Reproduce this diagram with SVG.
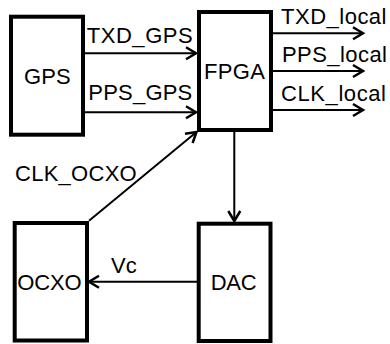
<svg xmlns="http://www.w3.org/2000/svg" width="390" height="344" viewBox="0 0 390 344">
<style>
.box{fill:#fff;stroke:#000;stroke-width:4}
.lbl{font-family:"Liberation Sans",Arial,sans-serif;font-size:22px;fill:#000}
.wire{stroke:#000;stroke-width:2;fill:none}
</style>
<defs>
<marker id="arr" markerUnits="userSpaceOnUse" markerWidth="16" markerHeight="16" viewBox="-12 -8 14 16" refX="0" refY="0" orient="auto">
<path d="M-10,-6 L0,0 L-10,6" fill="none" stroke="#000" stroke-width="2.5"/>
</marker>
</defs>
<rect width="390" height="344" fill="#fff"/>
<g id="connectors">
<line class="wire" x1="85" y1="53.3" x2="196" y2="53.3" marker-end="url(#arr)"/>
<line class="wire" x1="85" y1="112.3" x2="196" y2="112.3" marker-end="url(#arr)"/>
<line class="wire" x1="273" y1="33.3" x2="363" y2="33.3" marker-end="url(#arr)"/>
<line class="wire" x1="273" y1="71" x2="363" y2="71" marker-end="url(#arr)"/>
<line class="wire" x1="273" y1="110" x2="363" y2="110" marker-end="url(#arr)"/>
<line class="wire" x1="234.3" y1="132" x2="234.3" y2="221" marker-end="url(#arr)"/>
<line class="wire" x1="197" y1="281.7" x2="89" y2="281.7" marker-end="url(#arr)"/>
<line class="wire" x1="89" y1="220.7" x2="196.5" y2="132" marker-end="url(#arr)"/>
<text class="lbl" x="86.7" y="42.7" textLength="106" lengthAdjust="spacing">TXD_GPS</text>
<text class="lbl" x="88.3" y="100" textLength="104" lengthAdjust="spacing">PPS_GPS</text>
<text class="lbl" x="281" y="24" textLength="105.5" lengthAdjust="spacing">TXD_local</text>
<text class="lbl" x="282" y="62" textLength="105" lengthAdjust="spacing">PPS_local</text>
<text class="lbl" x="281" y="101" textLength="105" lengthAdjust="spacing">CLK_local</text>
<text class="lbl" x="15" y="180.5" textLength="121.7" lengthAdjust="spacing">CLK_OCXO</text>
<text class="lbl" x="111" y="273.3" textLength="25.7" lengthAdjust="spacing">Vc</text>
</g>
<g id="GPS">
<rect class="box" x="11" y="16.7" width="72" height="118"/>
<text class="lbl" x="24" y="84.3" textLength="46.7" lengthAdjust="spacing">GPS</text>
</g>
<g id="FPGA">
<rect class="box" x="199" y="12" width="72" height="118"/>
<text class="lbl" x="204" y="78.5" textLength="61" lengthAdjust="spacing">FPGA</text>
</g>
<g id="OCXO">
<rect class="box" x="14.7" y="223" width="72.3" height="117.5"/>
<text class="lbl" x="17.3" y="290" textLength="64.4" lengthAdjust="spacing">OCXO</text>
</g>
<g id="DAC">
<rect class="box" x="198.7" y="223.7" width="71.8" height="117.3"/>
<text class="lbl" x="210.7" y="290" textLength="46" lengthAdjust="spacing">DAC</text>
</g>
</svg>
